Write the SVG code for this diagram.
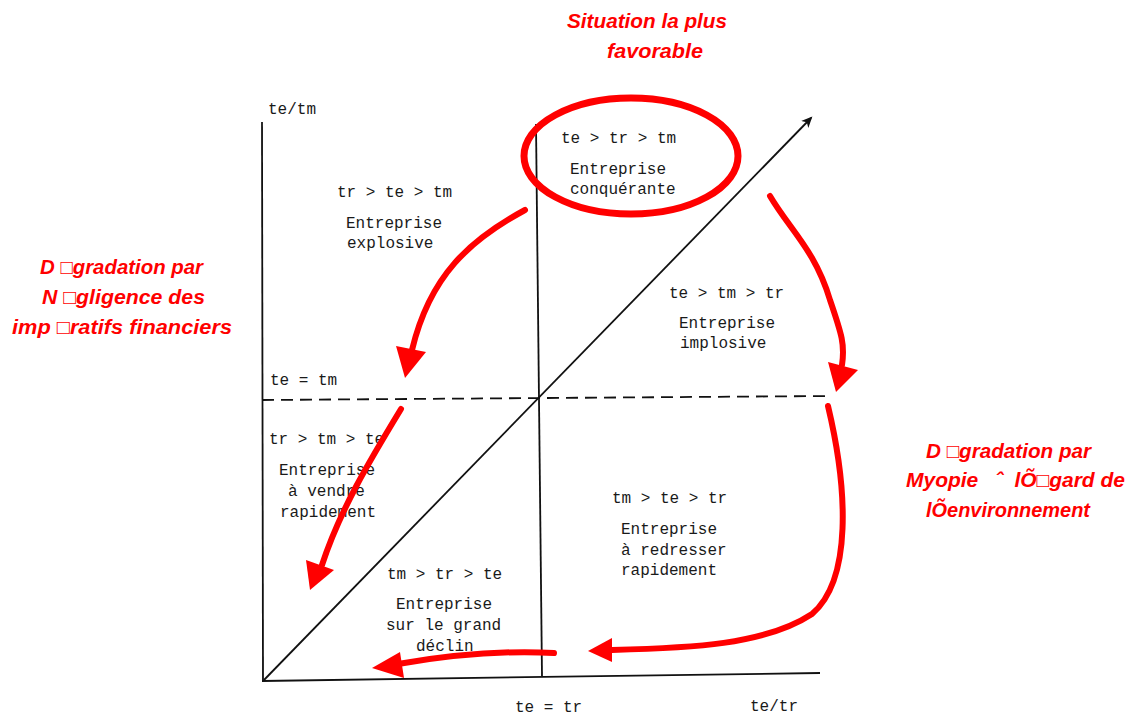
<svg xmlns="http://www.w3.org/2000/svg" width="1134" height="716" viewBox="0 0 1134 716">
<style>
.m{font-family:"Liberation Mono","DejaVu Sans Mono",monospace;font-size:16px;fill:#1a1a1a}
.r{font-family:"Liberation Sans",Arial,sans-serif;font-size:20px;font-weight:bold;font-style:italic;fill:#ff0000;white-space:pre}
.ax{stroke:#111;stroke-width:1.8;fill:none}
.ar{stroke:#ff0000;stroke-width:6;fill:none;stroke-linecap:round}
.ah{fill:#ff0000}
</style>
<defs>
<marker id="blk" markerWidth="12" markerHeight="12" refX="9" refY="6" orient="auto" markerUnits="userSpaceOnUse">
<path d="M0,1 L11,6 L0,11 L3,6 Z" fill="#111"/>
</marker>
</defs>
<rect width="1134" height="716" fill="#fff"/>
<g id="axes">
<line class="ax" x1="262" y1="122" x2="263" y2="681"/>
<line class="ax" x1="262" y1="681" x2="820" y2="673"/>
<line class="ax" x1="536" y1="124" x2="542" y2="676"/>
<line class="ax" x1="264" y1="680" x2="811" y2="118" marker-end="url(#blk)" stroke-width="1.6"/>
<line class="ax" x1="262" y1="400" x2="830" y2="396" stroke-dasharray="12,7" stroke-width="2.2"/>
</g>
<g id="axis-labels">
<text class="m" x="268" y="114">te/tm</text>
<text class="m" x="270" y="385">te = tm</text>
<text class="m" x="515" y="712">te = tr</text>
<text class="m" x="750" y="711">te/tr</text>
</g>
<g id="q-explosive">
<text class="m" x="337" y="197">tr &gt; te &gt; tm</text>
<text class="m" x="346" y="228">Entreprise</text>
<text class="m" x="347" y="248">explosive</text>
</g>
<g id="q-conquerante">
<text class="m" x="561" y="143">te &gt; tr &gt; tm</text>
<text class="m" x="570" y="174">Entreprise</text>
<text class="m" x="570" y="194">conquérante</text>
</g>
<g id="q-implosive">
<text class="m" x="669" y="298">te &gt; tm &gt; tr</text>
<text class="m" x="679" y="328">Entreprise</text>
<text class="m" x="680" y="348">implosive</text>
</g>
<g id="q-vendre">
<text class="m" x="269" y="444">tr &gt; tm &gt; te</text>
<text class="m" x="279" y="475">Entreprise</text>
<text class="m" x="288" y="496">à vendre</text>
<text class="m" x="280" y="517">rapidement</text>
</g>
<g id="q-redresser">
<text class="m" x="612" y="503">tm &gt; te &gt; tr</text>
<text class="m" x="621" y="534">Entreprise</text>
<text class="m" x="621" y="555">à redresser</text>
<text class="m" x="621" y="575">rapidement</text>
</g>
<g id="q-declin">
<text class="m" x="387" y="579">tm &gt; tr &gt; te</text>
<text class="m" x="396" y="609">Entreprise</text>
<text class="m" x="386" y="630">sur le grand</text>
<text class="m" x="416" y="651">déclin</text>
</g>
<g id="highlight">
<ellipse cx="631" cy="156" rx="107" ry="58" fill="none" stroke="#ff0000" stroke-width="7"/>
</g>
<g id="note-favorable">
<text class="r" x="567" y="28" textLength="160" lengthAdjust="spacingAndGlyphs">Situation la plus</text>
<text class="r" x="607" y="58" textLength="96" lengthAdjust="spacingAndGlyphs">favorable</text>
</g>
<g id="note-financiers">
<text class="r" x="40" y="274" textLength="163" lengthAdjust="spacingAndGlyphs">D □gradation par</text>
<text class="r" x="42" y="304" textLength="163" lengthAdjust="spacingAndGlyphs">N □gligence des</text>
<text class="r" x="12" y="334" textLength="220" lengthAdjust="spacingAndGlyphs">imp □ratifs financiers</text>
</g>
<g id="note-myopie">
<text class="r" x="926" y="458" textLength="165" lengthAdjust="spacingAndGlyphs">D □gradation par</text>
<text class="r" x="906" y="487" textLength="219" lengthAdjust="spacingAndGlyphs">Myopie   ˆ  lÕ□gard de</text>
<text class="r" x="926" y="517" textLength="164" lengthAdjust="spacingAndGlyphs">lÕenvironnement</text>
</g>
<g id="connectors">
<path class="ar" d="M525,210 C470,240 430,275 412,350"/>
<polygon class="ah" points="396,346 426,352 405,378"/>
<path class="ar" d="M401,409 C370,460 340,510 322,565"/>
<polygon class="ah" points="306,560 334,570 310,590"/>
<path class="ar" d="M770,196 C790,230 815,250 830,300 C842,335 845,345 842,365"/>
<polygon class="ah" points="828,362 858,370 836,392"/>
<path class="ar" d="M828,406 C848,490 852,580 812,614 C765,645 690,648 612,650"/>
<polygon class="ah" points="612,638 612,662 588,651"/>
<path class="ar" d="M554,653 C500,650 450,655 398,664"/>
<polygon class="ah" points="400,652 404,678 372,668"/>
</g>
</svg>
